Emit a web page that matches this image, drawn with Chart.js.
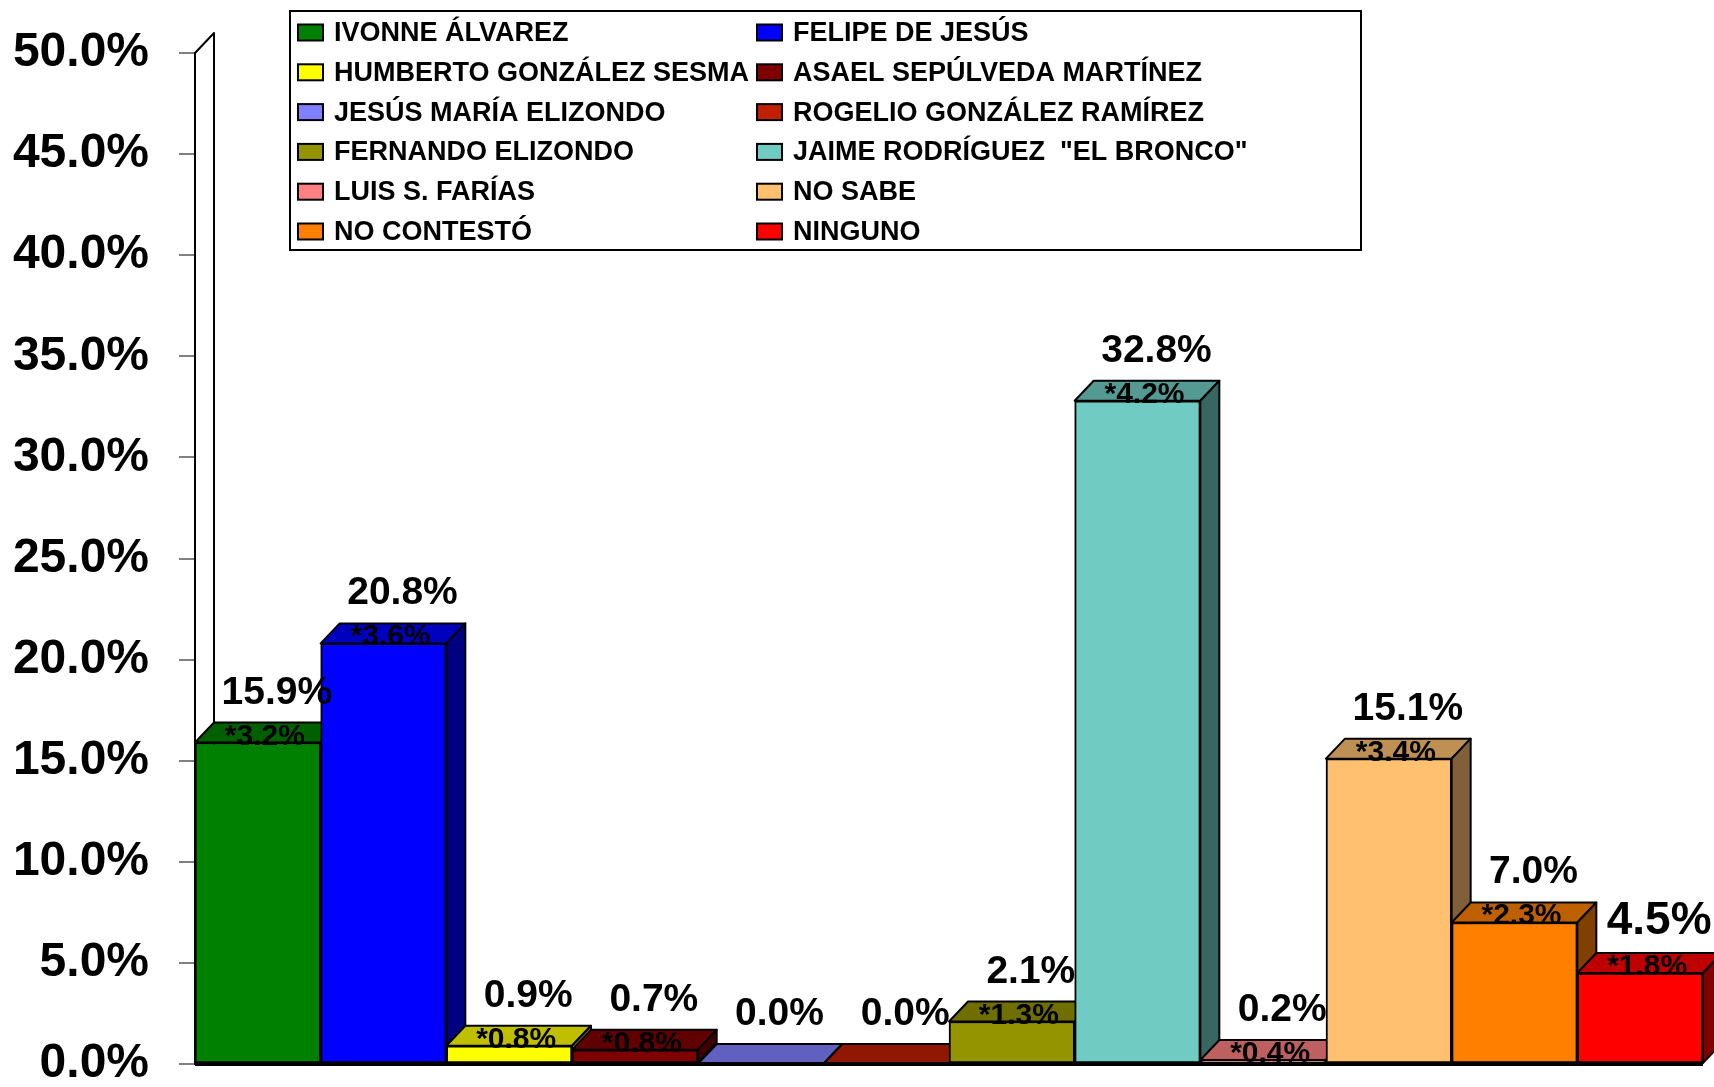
<!DOCTYPE html>
<html>
<head>
<meta charset="utf-8">
<script src="https://cdn.jsdelivr.net/npm/chart.js@4.4.1/dist/chart.umd.min.js"></script>
<style>
  body { margin: 0; background: #fff; }
  canvas { display: block; }
</style>
</head>
<body>
<canvas id="myChart" width="1714" height="1087"></canvas>
<script>
const candidates = [
  'IVONNE ÁLVAREZ', 'FELIPE DE JESÚS',
  'HUMBERTO GONZÁLEZ SESMA', 'ASAEL SEPÚLVEDA MARTÍNEZ',
  'JESÚS MARÍA ELIZONDO', 'ROGELIO GONZÁLEZ RAMÍREZ',
  'FERNANDO ELIZONDO', 'JAIME RODRÍGUEZ  "EL BRONCO"',
  'LUIS S. FARÍAS', 'NO SABE',
  'NO CONTESTÓ', 'NINGUNO',
]
const values = [15.9, 20.8, 0.9, 0.7, 0.0, 0.0, 2.1, 32.8, 0.2, 15.1, 7.0, 4.5]
const margins = [3.2, 3.6, 0.8, 0.8, null, null, 1.3, 4.2, 0.4, 3.4, 2.3, 1.8]
const colors = [
  '#008000', '#0000ff', '#ffff00', '#800000', '#8080ff', '#c02000',
  '#949400', '#70ccc2', '#ff8080', '#ffc070', '#ff8000', '#ff0000',
]
const yTicks = [0, 5, 10, 15, 20, 25, 30, 35, 40, 45, 50]

const FONT = "'Liberation Sans', Arial, sans-serif"
const DX = 19
const DY = 20

const shade = (hex, k) => {
  let n = parseInt(hex.slice(1), 16)
  let r = Math.round(((n >> 16) & 255) * k)
  let g = Math.round(((n >> 8) & 255) * k)
  let b = Math.round((n & 255) * k)
  return `rgb(${r},${g},${b})`
}

const poly = (ctx, pts, fill) => {
  ctx.beginPath()
  ctx.moveTo(pts[0][0], pts[0][1])
  pts.slice(1).forEach((p) => ctx.lineTo(p[0], p[1]))
  ctx.closePath()
  ctx.fillStyle = fill
  ctx.fill()
  ctx.stroke()
}

// last label is drawn bigger in the original
const labelSize = (i) => (i === values.length - 1 ? 46 : 39)

// 3d look: back wall, then each bar front/top/side in order so the next bar hides the previous side
const bars3d = {
  id: 'bars3d',
  beforeDatasetsDraw(chart) {
    const ctx = chart.ctx
    const area = chart.chartArea
    const y = chart.scales.y
    const top = y.getPixelForValue(50)
    const base = y.getPixelForValue(0)

    ctx.save()
    ctx.strokeStyle = '#000'
    ctx.lineWidth = 2
    ctx.lineJoin = 'round'
    ctx.beginPath()
    ctx.moveTo(area.left, base)
    ctx.lineTo(area.left, top)
    ctx.lineTo(area.left + DX, top - DY)
    ctx.lineTo(area.left + DX, base - DY)
    ctx.stroke()

    const meta = chart.getDatasetMeta(0)
    meta.data.forEach((bar, i) => {
      const p = bar.getProps(['x', 'y', 'base', 'width'], true)
      const l = p.x - p.width / 2
      const r = p.x + p.width / 2
      if (p.base - p.y > 0.5) bar.draw(ctx, area)
      ctx.strokeStyle = '#000'
      ctx.lineWidth = 2
      poly(ctx, [[l, p.y], [l + DX, p.y - DY], [r + DX, p.y - DY], [r, p.y]], shade(colors[i], 0.75))
      poly(ctx, [[r, p.y], [r + DX, p.y - DY], [r + DX, p.base - DY], [r, p.base]], shade(colors[i], 0.5))
    })

    // floor line
    ctx.lineWidth = 4
    ctx.beginPath()
    ctx.moveTo(area.left, base)
    ctx.lineTo(area.right, base)
    ctx.stroke()

    // labels
    ctx.fillStyle = '#000'
    ctx.textAlign = 'center'
    ctx.textBaseline = 'alphabetic'
    meta.data.forEach((bar, i) => {
      const p = bar.getProps(['x', 'y'], true)
      ctx.font = `bold ${labelSize(i)}px ${FONT}`
      ctx.fillText(values[i].toFixed(1) + '%', p.x + DX, p.y - DY - 19)
      if (margins[i] !== null) {
        ctx.font = `bold 30px ${FONT}`
        ctx.fillText('*' + margins[i].toFixed(1) + '%', p.x + 7, p.y + 2)
      }
    })
    ctx.restore()
    return false
  },
}

const legendBox = {
  id: 'legendBox',
  afterDraw(chart) {
    const ctx = chart.ctx
    ctx.save()
    ctx.fillStyle = '#fff'
    ctx.fillRect(290, 11, 1071, 239)
    ctx.strokeStyle = '#000'
    ctx.lineWidth = 2
    ctx.strokeRect(290, 11, 1071, 239)
    ctx.font = `bold 27px ${FONT}`
    ctx.textBaseline = 'middle'
    ctx.textAlign = 'left'
    candidates.forEach((name, i) => {
      const col = i % 2
      const row = Math.floor(i / 2)
      const sx = col ? 757 : 298
      const cy = 32.5 + row * 39.8
      ctx.fillStyle = colors[i]
      ctx.fillRect(sx, cy - 8, 25, 16)
      ctx.strokeStyle = '#000'
      ctx.lineWidth = 2
      ctx.strokeRect(sx, cy - 8, 25, 16)
      ctx.fillStyle = '#000'
      ctx.fillText(name, sx + 36, cy + 1)
    })
    ctx.restore()
  },
}

const config = {
  type: 'bar',
  data: {
    labels: candidates,
    datasets: [
      {
        data: values,
        backgroundColor: colors,
        borderColor: '#000',
        borderWidth: 2,
        borderSkipped: false,
        barPercentage: 1,
        categoryPercentage: 1,
      },
    ],
  },
  options: {
    responsive: false,
    animation: false,
    devicePixelRatio: 1,
    layout: { padding: { top: 53, right: 11, bottom: 23, left: 0 } },
    plugins: {
      legend: { display: false },
      tooltip: { enabled: false },
    },
    scales: {
      x: { display: false },
      y: {
        min: 0,
        max: 50,
        afterBuildTicks: (scale) => {
          scale.ticks = yTicks.map((v) => ({ value: v }))
        },
        afterFit: (scale) => {
          scale.width = 195
          scale.paddingTop = 0
          scale.paddingBottom = 0
        },
        ticks: {
          callback: (v) => v.toFixed(1) + '%',
          color: '#000',
          padding: 30,
          font: { family: FONT, size: 48, weight: 'bold' },
        },
        grid: {
          drawOnChartArea: false,
          tickLength: 16,
          color: '#808080',
          lineWidth: 2,
        },
        border: { color: '#000', width: 2 },
      },
    },
  },
  plugins: [bars3d, legendBox],
}

var myChart = new Chart(document.getElementById('myChart'), config)
</script>
</body>
</html>
